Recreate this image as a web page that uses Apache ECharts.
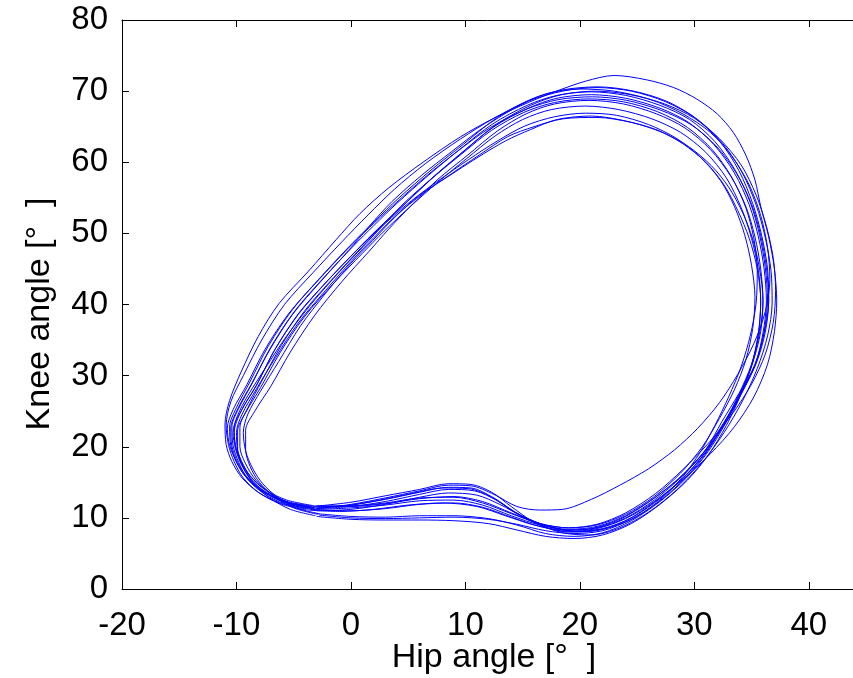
<!DOCTYPE html>
<html>
<head>
<meta charset="utf-8">
<script src="https://cdn.jsdelivr.net/npm/echarts@6/dist/echarts.min.js"></script>
<style>
html, body { margin: 0; padding: 0; background: #fff; }
#chart { width: 853px; height: 678px; }
</style>
</head>
<body>
<div id="chart"></div>
<script>
// hip / knee angle loops, one array per gait cycle ([hip, knee] in degrees)
var cycle1 = [[-3,11.2],[0,11.4],[3,11.8],[6,12.4],[9,12.5],[11.5,11.8],[14,10.3],[16.5,9],[19,8.4],[21.5,8.8],[24,10.3],[26.5,12.8],[29,16],[31,19.6],[32.4,23.5],[33.9,27.5],[35.3,31.5],[36,36],[36.3,40.5],[36.1,45],[35.6,49.5],[34.8,54],[33.5,58.5],[31.7,62.5],[29.5,65.6],[27,67.6],[24,69],[21,69.5],[18,69],[15.5,67.6],[12.5,65],[9.6,61.2],[7,57.6],[4.3,53.5],[2.3,50.5],[0.5,47.6],[-2,43.4],[-4.6,38.6],[-6.7,33.5],[-8.3,28.5],[-9.6,25],[-10.2,22],[-10,19.5],[-9.4,17.3],[-8.5,15.3],[-7.1,13.5],[-5.3,12.1],[-3.2,11.4]];
var cycle2 = [[-3.5,11.2],[0,11],[3,11.3],[6,11.9],[9,12.1],[11.5,11.5],[14,10.1],[16.5,8.8],[19,8.1],[21.5,8.5],[24,9.9],[26.5,12.3],[29,15.4],[31.4,19],[33.5,22.8],[35.2,27],[36.4,31.6],[37,36.2],[37.2,40.5],[37,45],[36.5,49.5],[35.8,53.8],[35.3,57.5],[34.5,61],[33.4,64.2],[32,66.8],[30.2,68.9],[28.2,70.5],[25.8,71.6],[23,72.2],[20.5,71.4],[17.8,69.9],[15.5,68.4],[12.5,66.2],[9.6,63.6],[6.3,60],[3.3,56.4],[0.8,52.8],[-1.3,49.1],[-3.7,44.7],[-6.3,40.1],[-8.1,35.5],[-9.6,30.5],[-10.6,26.5],[-11,23.2],[-10.9,20.3],[-10.4,17.9],[-9.5,15.6],[-8.1,13.6],[-6.2,12.1],[-3.8,11.2]];
var cycle3 = [[-3,10.6],[0,10.2],[3,10.1],[6,10.3],[9,10.3],[12,9.9],[14.5,9],[17,7.8],[19.5,7.4],[22,7.9],[24.5,9.6],[27,12.3],[29.3,15.6],[31.2,19.3],[32.7,23.2],[34,27.3],[35,31.5],[35.6,36],[35.8,40.5],[35.5,45],[34.8,49.3],[33.8,53.2],[32.6,56.8],[31,60],[29,62.6],[26.8,64.5],[24,65.8],[21,66.5],[18,66],[15.7,64.6],[13.5,63],[11,60.6],[8.5,58],[6,55.4],[3.8,52.2],[1.9,49],[0,45.8],[-2.2,41.6],[-4.4,37],[-6.3,32],[-7.9,27.8],[-9,24.6],[-9.4,22],[-9.2,19.4],[-8.6,17],[-7.7,14.8],[-6.4,12.9],[-4.8,11.4],[-2.8,10.6]];
var cycle4 = [[-3,11.4],[0,11.8],[3,12.6],[6,13.6],[8.5,14.3],[10.5,14.2],[12.5,12.8],[14.5,10.6],[16.5,9],[19,8],[21.5,8.2],[24,9.6],[26.5,12.2],[29,15.6],[31,19.3],[32.6,23.3],[34,27.5],[35.1,31.8],[35.8,36.2],[36,40.6],[35.7,45],[35.1,49.2],[34.2,53],[33,56.5],[31.5,59.5],[29.5,62.2],[27.2,64.2],[24.5,65.6],[21.5,66.3],[18.5,66.1],[16,65],[13.7,63.6],[11.2,61],[8.8,58.4],[6.3,55.6],[4,52.6],[2,49.4],[0.1,46.2],[-2.2,42],[-4.6,37.4],[-6.6,32.5],[-8.3,28],[-9.5,24.6],[-10,22],[-9.9,19.6],[-9.4,17.3],[-8.5,15],[-7.1,13.2],[-5.3,12],[-3.1,11.4]];
var cycle5 = [[-3.8,11.1],[-1,10.9],[2,11.2],[5,11.8],[8,12.1],[11,11.6],[13.5,10.3],[16,9],[18.5,8.3],[21,8.5],[23.5,9.8],[26,12.2],[28.6,15.5],[30.8,19.2],[32.5,23.2],[34,27.3],[35.3,31.6],[36.1,36],[36.5,40.5],[36.4,45],[35.9,49.6],[35.1,54.2],[33.9,58.8],[32.2,63],[30,66.3],[27.5,68.5],[24.5,70],[21.5,70.5],[18.5,70],[15.5,68.6],[12.5,66.2],[9.6,63.3],[6.5,59.8],[3.8,56.2],[1.5,52.6],[-0.8,48.8],[-3.3,44.5],[-5.8,40],[-7.8,35],[-9.4,30],[-10.5,26.3],[-10.9,23],[-10.7,20.3],[-10.2,17.9],[-9.4,15.6],[-8,13.5],[-6.2,12],[-3.9,11.1]];
var cycle6 = [[-3,11.3],[0,11.9],[3,12.8],[6,13.8],[8.5,14.6],[10.5,14.5],[12.5,13.3],[14.5,11.6],[16.5,11.1],[18.5,11.2],[21,12.6],[23.5,14.6],[26,16.9],[28.3,19.6],[30.3,22.6],[32.2,26.2],[33.8,30.2],[35.2,34.5],[36.2,39],[36.6,43.5],[36.4,48],[35.8,52.5],[34.8,56.8],[33.3,60.8],[31.4,64.2],[29,66.8],[26.2,68.8],[23,70],[20,70.3],[17,69.6],[14.3,67.6],[11.5,64.8],[8.8,61.5],[6.2,58.2],[3.6,54.5],[1.6,51],[-0.2,47.6],[-2.6,43.3],[-5.1,38.6],[-7.1,33.6],[-8.7,28.8],[-9.9,25.3],[-10.5,22.6],[-10.4,20.1],[-9.9,17.8],[-9,15.6],[-7.6,13.7],[-5.8,12.2],[-3.2,11.3]];
var cycle7 = [[-2.8,10.4],[0,10],[3,9.9],[6,10],[9,10.1],[12,9.8],[14.5,9.1],[17,8.2],[19.5,7.8],[22,8.2],[24.5,9.8],[27,12.4],[29.2,15.6],[31.1,19.3],[32.6,23.3],[33.9,27.4],[35,31.6],[35.7,36],[36,40.5],[35.8,45],[35.3,49.5],[34.5,53.8],[33.2,58],[31.4,61.8],[29.2,64.8],[26.7,66.8],[23.8,68.2],[20.8,68.7],[17.8,68.2],[15.3,66.8],[12.8,64.4],[10.2,61],[7.6,57.6],[5.2,53.8],[3.3,50.6],[1.6,47.5],[-0.8,43.2],[-3.2,38.4],[-5.3,33.3],[-7,28.5],[-8.4,25],[-9.2,22.3],[-9.2,19.6],[-8.8,17.2],[-8,15],[-6.7,13],[-5,11.4],[-2.9,10.5]];
var cycle8 = [[-3.2,11.3],[0,11.6],[3,12.3],[6,13.3],[8.5,14],[10.8,13.8],[12.8,12.4],[14.8,10.4],[17,8.9],[19.5,8.1],[22,8.5],[24.5,10],[27,12.7],[29.3,16],[31.2,19.7],[32.8,23.6],[34.2,27.7],[35.4,31.8],[36.1,36.2],[36.4,40.6],[36.2,45.2],[35.7,49.8],[34.9,54.3],[33.6,58.8],[31.8,62.9],[29.6,66],[27,68],[24,69.4],[21,69.9],[18,69.4],[15.4,68],[12.4,65.4],[9.5,61.8],[6.8,58.2],[4,54.2],[2,51.1],[0.2,48.2],[-2.3,43.9],[-4.9,39.1],[-7,34],[-8.6,29],[-9.8,25.4],[-10.4,22.8],[-10.3,20.2],[-9.8,17.8],[-9,15.4],[-7.6,13.4],[-5.8,12],[-3.3,11.3]];
var cycle9 = [[-3,10.2],[0,9.8],[3,9.7],[6,9.7],[9,9.6],[12,9.2],[14.5,8.3],[17,7.4],[19.5,7.1],[22,7.6],[24.5,9.2],[27,11.9],[29.4,15.3],[31.3,19],[32.8,23],[34,27.1],[35,31.3],[35.6,35.8],[35.8,40.3],[35.6,44.8],[35,49.3],[34.1,53.6],[32.8,57.8],[31,61.4],[28.8,64.2],[26.3,66.1],[23.4,67.4],[20.5,67.9],[17.5,67.4],[15,66],[12.6,63.7],[10.1,60.5],[7.6,57.2],[5,53.5],[2.9,50.3],[1,47.2],[-1.5,43],[-4.1,38.2],[-6.2,33.2],[-7.9,28.3],[-9.2,24.8],[-9.9,22.2],[-9.9,19.4],[-9.4,17.1],[-8.5,14.8],[-7.1,12.8],[-5.3,11.2],[-3.1,10.3]];
var cycle10 = [[-3.1,11.7],[0,11.7],[3,12.1],[6,12.8],[9,12.9],[11.5,12.1],[14,10.6],[16.5,9.2],[19,8.6],[21.5,9.1],[24,10.7],[26.6,13.4],[29,16.8],[31.4,20.8],[33.4,24.8],[35,28.8],[36.2,33],[36.9,37.5],[37.1,42],[36.9,46.5],[36.3,51],[35.4,55.4],[34.1,59.6],[32.2,63.3],[30,66.2],[27.4,68.2],[24.4,69.5],[21.4,70],[18.4,69.5],[15.7,68],[12.7,65.3],[9.8,61.5],[7.1,57.8],[4.4,53.7],[2.4,50.7],[0.6,47.8],[-1.9,43.6],[-4.5,38.9],[-6.6,33.8],[-8.2,28.8],[-9.5,25.3],[-10.2,22.6],[-10.1,20.3],[-9.6,18.1],[-8.8,15.9],[-7.4,13.9],[-5.6,12.5],[-3.2,11.7]];
var cycle11 = [[-3.4,11.5],[-0.5,11.7],[2.5,12.5],[5.5,13.5],[8,14.2],[10.3,14.1],[12.3,12.9],[14.3,10.8],[16.5,9.2],[19,8.3],[21.5,8.6],[24,10],[26.5,12.5],[28.9,15.8],[31,19.5],[32.7,23.4],[34.1,27.5],[35.4,31.7],[36.2,36.1],[36.5,40.6],[36.3,45.2],[35.8,49.7],[35,54.1],[33.7,58.4],[31.9,62.3],[29.7,65.3],[27.1,67.3],[24.1,68.7],[21.1,69.2],[18.1,68.8],[15.4,67.5],[12.2,64.9],[9.2,61.4],[6.4,57.8],[3.6,53.8],[1.6,50.8],[-0.3,47.8],[-2.8,43.5],[-5.4,38.8],[-7.5,33.7],[-9.1,28.7],[-10.3,25.2],[-10.8,22.6],[-10.6,20.2],[-10,17.9],[-9.2,15.8],[-7.8,13.8],[-6,12.3],[-3.5,11.5]];
var cycle12 = [[-3,11.6],[0,11.6],[3,12],[6,12.7],[9,13],[11.5,12.3],[14,10.7],[16.5,9.2],[19,8.6],[21.5,9],[24,10.5],[26.5,13],[28.8,16.3],[30.7,20],[32.2,24],[33.5,28],[34.5,32.2],[35.1,36.6],[35.3,41],[35,45.5],[34.4,49.8],[33.5,53.8],[32.3,57.4],[30.6,60.6],[28.5,63.3],[26,65.3],[23.2,66.6],[20.5,66.9],[17.8,66.4],[15.2,65.1],[12.8,63],[10.3,60.4],[7.8,57.6],[5.3,54.6],[3,51.4],[1.1,48.2],[-1,44.6],[-3.4,40.2],[-5.6,35.6],[-7.5,31],[-9,27.2],[-9.9,24.4],[-10.3,22],[-10.1,19.8],[-9.6,17.6],[-8.8,15.5],[-7.4,13.6],[-5.6,12.3],[-3.1,11.6]];
var cycle13 = [[-3,11],[0,11.2],[3,11.9],[6,12.9],[8.5,13.5],[11,13.2],[13,11.9],[15,10.2],[17.5,8.7],[20,8.1],[22.5,8.6],[25,10.2],[27.2,12.8],[29,15.8],[30.5,19.2],[31.8,23],[33,27],[34.1,31.3],[34.9,35.7],[35.4,40.2],[35.5,44.8],[35.2,49.3],[34.5,53.6],[33.3,57.8],[31.6,61.7],[29.4,64.9],[26.8,67.1],[23.8,68.5],[20.8,68.9],[17.8,68.4],[15.1,67],[12.3,64.5],[9.7,61.2],[7.2,57.9],[4.8,54.5],[2.8,51.2],[0.9,48],[-1.5,43.8],[-4,39.2],[-6.1,34.2],[-7.8,29.2],[-9,25.5],[-9.7,22.7],[-9.7,20],[-9.2,17.6],[-8.3,15.3],[-6.9,13.3],[-5.1,11.8],[-3.1,11.1]];
var cycle14 = [[-3.3,11.6],[0,12.2],[3,13.1],[6,14],[8.5,14.8],[10.5,14.7],[12.3,13.6],[14,11.6],[16,9.4],[18.5,7.9],[21,7.6],[23.5,8.6],[26,10.8],[28.5,14],[30.7,17.8],[32.6,22],[34.2,26.4],[35.5,31],[36.4,35.6],[36.8,40.2],[36.7,44.8],[36.2,49.4],[35.4,54],[34.2,58.5],[32.5,62.6],[30.3,66],[27.7,68.5],[24.7,70],[21.6,70.6],[18.6,70.2],[15.8,68.9],[12.8,66.3],[9.8,62.5],[7,58.9],[4.2,55],[2,51.6],[0,48.4],[-2.5,44.1],[-5.1,39.3],[-7.2,34.2],[-8.8,29.2],[-10,25.5],[-10.6,22.8],[-10.5,20.2],[-10,17.8],[-9.1,15.6],[-7.7,13.7],[-5.8,12.3],[-3.4,11.6]];

var cycles = [cycle1, cycle2, cycle3, cycle4, cycle5, cycle6, cycle7,
              cycle8, cycle9, cycle10, cycle11, cycle12, cycle13, cycle14];

var fontFamily = '"Liberation Sans", Arial, sans-serif';

var chart = echarts.init(document.getElementById('chart'));

var series = cycles.map(function (c, i) {
    return {
        name: 'cycle' + (i + 1),
        type: 'line',
        data: c,
        symbol: 'none',
        smooth: 0.3,
        lineStyle: { color: '#0000ff', width: 1 }
    };
});

chart.setOption({
    animation: false,
    // box runs past the right edge of the picture (x max is 45)
    grid: { left: 122, top: 20, width: 744, height: 569, containLabel: false, outerBoundsMode: 'none' },
    xAxis: [{
        type: 'value',
        min: -20,
        max: 45,
        interval: 10,
        name: 'Hip angle [°  ]',
        nameLocation: 'middle',
        nameGap: 52,
        nameMoveOverlap: false,
        nameTextStyle: { color: '#000', fontSize: 34, fontFamily: fontFamily },
        axisLine: { show: true, onZero: false, lineStyle: { color: '#000', width: 1 } },
        axisTick: { show: true, inside: true, length: 7, lineStyle: { color: '#000' } },
        axisLabel: {
            color: '#000', fontSize: 33, fontFamily: fontFamily, margin: 20,
            formatter: function (v) { return v === 45 ? '' : String(v); }
        },
        splitLine: { show: false }
    }, {
        // top border of the box
        type: 'value',
        position: 'top',
        min: -20,
        max: 45,
        interval: 10,
        axisLine: { show: true, onZero: false, lineStyle: { color: '#000', width: 1 } },
        axisTick: { show: true, inside: true, length: 7, lineStyle: { color: '#000' } },
        axisLabel: { show: false },
        splitLine: { show: false }
    }],
    yAxis: {
        type: 'value',
        min: 0,
        max: 80,
        interval: 10,
        name: 'Knee angle [°  ]',
        nameLocation: 'middle',
        nameGap: 65,
        nameTextStyle: { color: '#000', fontSize: 34, fontFamily: fontFamily, padding: [0, 19, 0, 0] },
        axisLine: { show: true, onZero: false, lineStyle: { color: '#000', width: 1 } },
        axisTick: { show: true, inside: true, length: 7, lineStyle: { color: '#000' } },
        axisLabel: { color: '#000', fontSize: 33, fontFamily: fontFamily, margin: 14 },
        splitLine: { show: false }
    },
    series: series
});
</script>
</body>
</html>
